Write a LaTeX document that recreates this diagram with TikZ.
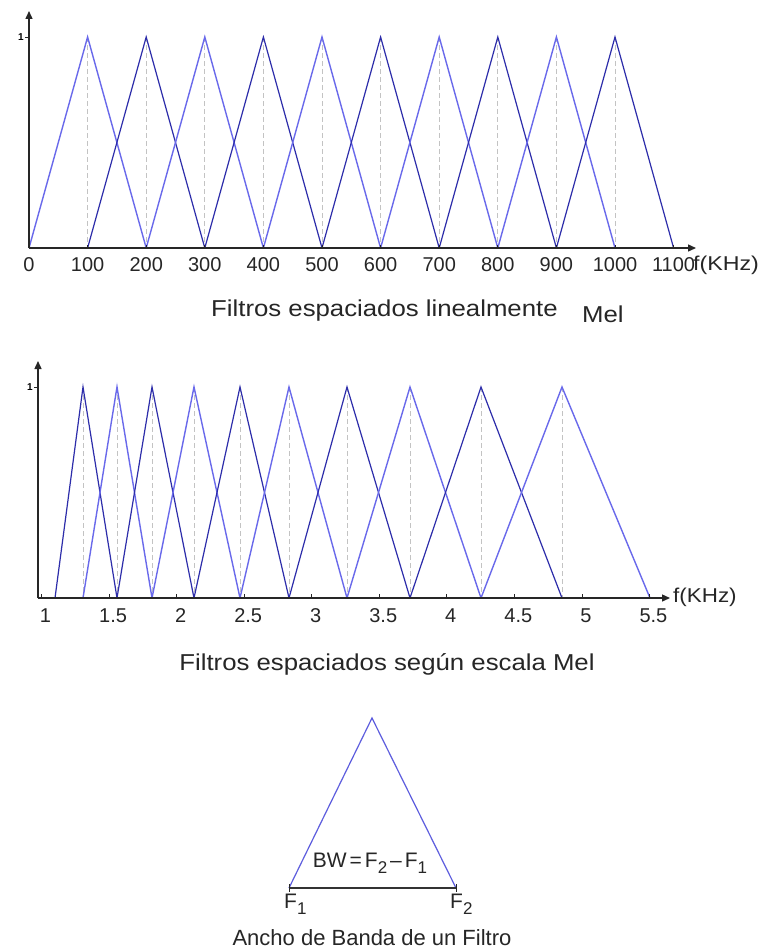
\documentclass[tikz,border=0pt]{standalone}
\usepackage{fontspec}
\setmainfont{Liberation Sans}
\usetikzlibrary{arrows.meta}
\definecolor{lblue}{RGB}{105,105,235}
\definecolor{dblue}{RGB}{45,45,170}
\definecolor{dgray}{RGB}{195,195,195}
\newcommand{\sbs}[1]{\raisebox{-6pt}{\fontsize{17}{17}\selectfont #1}}
\newcommand{\widetxt}[2]{\scalebox{#1}[1]{#2}}
\tikzset{
  axisline/.style={line width=1.4pt, draw=black!85, -{Triangle[length=8pt,width=7pt]}},
  filtA/.style={draw=lblue, line width=1.4pt, line join=miter},
  filtB/.style={draw=dblue, line width=1.2pt, line join=miter},
  guide/.style={draw=dgray, line width=0.9pt, dash pattern=on 5pt off 3pt},
  ticklab/.style={font=\fontsize{20}{20}\selectfont, text=black!85, inner sep=0pt},
  ylab/.style={font=\fontsize{10}{10}\selectfont\bfseries, inner sep=0pt},
  caption/.style={font=\fontsize{23}{23}\selectfont, text=black!85, inner sep=0pt},
  bwlab/.style={font=\fontsize{21}{21}\selectfont, text=black!85, inner sep=0pt},
  tickmark/.style={draw=black!85, line width=0.8pt}
}
\begin{document}
\begin{tikzpicture}[x=1pt,y=-1pt]
\useasboundingbox[fill=white] (0,0) rectangle (763,950);
% ---------- top chart (linear) ----------
\foreach \i in {1,...,10}{
  \pgfmathsetmacro{\xc}{29+58.6*\i}
  \draw[guide] (\xc,37) -- (\xc,248);
}
\foreach \i in {1,...,10}{
  \pgfmathsetmacro{\xl}{29+58.6*(\i-1)}
  \pgfmathsetmacro{\xc}{29+58.6*\i}
  \pgfmathsetmacro{\xr}{29+58.6*(\i+1)}
  \pgfmathtruncatemacro{\parity}{mod(\i,2)}
  \ifnum\parity=1
    \draw[filtA] (\xl,248) -- (\xc,37) -- (\xr,248);
  \else
    \draw[filtB] (\xl,248) -- (\xc,37) -- (\xr,248);
  \fi
}
\coordinate (o1) at (29,248);
\coordinate (xe1) at (696,248);
\coordinate (ye1) at (29,11);
\draw[axisline] (o1) -- (xe1);
\draw[axisline] (o1) -- (ye1);
\draw[tickmark] (25,37) -- (29,37);
\node[ylab, anchor=east] (y1top) at (24,37) {1};
\foreach \k in {0,...,11}{
  \pgfmathsetmacro{\xx}{29+58.6*\k}
  \pgfmathtruncatemacro{\lab}{100*\k}
  \draw[tickmark] (\xx,248) -- (\xx,245);
  \node[ticklab] (tl\k) at (\xx,265) {\lab};
}
\node[ticklab, anchor=west] (fk1) at (693,265) {\widetxt{1.16}{f(KHz)}};
\node[caption, anchor=west] (cap1) at (211,311) {\widetxt{1.12}{Filtros espaciados linealmente}};
\node[caption, anchor=west] (cap1b) at (582,314) {\widetxt{1.12}{Mel}};
% ---------- middle chart (mel) ----------
\def\P{{55,83,117,152,194,240,289,347,410,481,562,650}}
\foreach \i in {1,...,10}{
  \pgfmathsetmacro{\xc}{\P[\i]}
  \draw[guide] (\xc,387) -- (\xc,598);
}
\foreach \i in {1,...,10}{
  \pgfmathsetmacro{\xl}{\P[\i-1]}
  \pgfmathsetmacro{\xc}{\P[\i]}
  \pgfmathsetmacro{\xr}{\P[\i+1]}
  \pgfmathtruncatemacro{\parity}{mod(\i,2)}
  \ifnum\parity=1
    \draw[filtB] (\xl,598) -- (\xc,387) -- (\xr,598);
  \else
    \draw[filtA] (\xl,598) -- (\xc,387) -- (\xr,598);
  \fi
}
\coordinate (o2) at (38,598);
\coordinate (xe2) at (670,598);
\coordinate (ye2) at (38,361);
\draw[axisline] (o2) -- (xe2);
\draw[axisline] (o2) -- (ye2);
\draw[tickmark] (34,387) -- (38,387);
\node[ylab, anchor=east] (y1mid) at (33,387) {1};
\foreach \v/\lab [count=\k] in {1/1,1.5/1.5,2/2,2.5/2.5,3/3,3.5/3.5,4/4,4.5/4.5,5/5,5.5/5.5}{
  \pgfmathsetmacro{\xx}{41.5+135.1*(\v-1)}
  \draw[tickmark] (\xx,598) -- (\xx,594);
  \node[ticklab] (ml\k) at (\xx+4,616) {\lab};
}
\node[ticklab, anchor=west] (fk2) at (673,597) {\widetxt{1.12}{f(KHz)}};
\node[caption] (cap2) at (387,664) {\widetxt{1.12}{Filtros espaciados según escala Mel}};
% ---------- bottom: single filter ----------
\coordinate (apex) at (372,718);
\coordinate (f1) at (289,888);
\coordinate (f2) at (456,888);
\draw[draw=lblue!80!dblue, line width=1.2pt] (f1) -- (apex) -- (f2);
\draw[line width=1.4pt, draw=black!80] (f1) -- (f2);
\draw[tickmark] (289,884) -- (289,892);
\draw[tickmark] (456,884) -- (456,892);
\node[bwlab, anchor=base] (bw) at (370,867) {BW\kern3pt=\kern3pt F\sbs{2}\kern3pt–\kern3pt F\sbs{1}};
\node[bwlab, anchor=base west] (lf1) at (284,908) {F\sbs{1}};
\node[bwlab, anchor=base west] (lf2) at (450,908) {F\sbs{2}};
\node[font=\fontsize{22}{22}\selectfont, text=black!85, inner sep=0pt, anchor=base] (cap3) at (372,945) {Ancho de Banda de un Filtro};
\end{tikzpicture}
\end{document}
